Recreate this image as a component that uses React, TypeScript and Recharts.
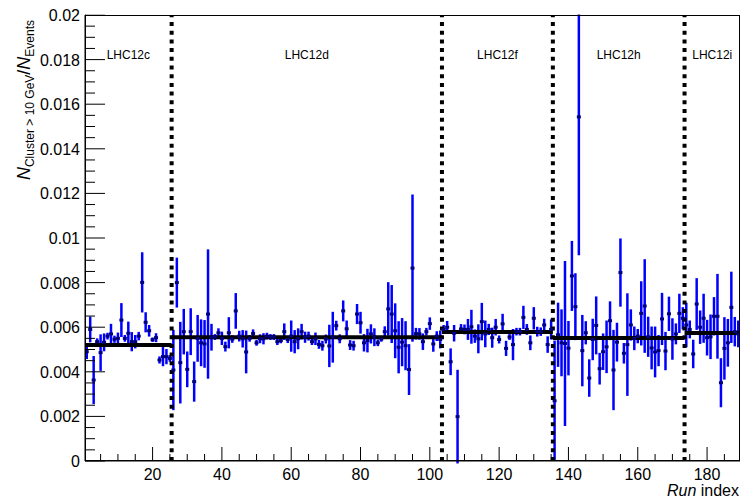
import { ComposedChart, Scatter, ErrorBar, XAxis, YAxis, ReferenceLine, ReferenceArea } from "recharts";

const PERIODS = ["LHC12c", "LHC12d", "LHC12f", "LHC12h", "LHC12i"];
const PERIOD_FIRST_RUN = [1, 26, 104, 136, 174];
const PERIOD_EDGES = [0.5, 25.5, 103.5, 135.5, 173.5, 189.5];
const PERIOD_MEANS = [0.0052, 0.00555, 0.00578, 0.00552, 0.00574];

const LHC12C_VALUES = [0.0049, 0.0059, 0.00363, 0.00535, 0.00486, 0.00532, 0.0056, 0.0057, 0.00546, 0.0055, 0.00632, 0.0055, 0.00573, 0.00535, 0.00535, 0.0056, 0.00801, 0.00622, 0.00584, 0.00544, 0.00553, 0.00453, 0.00468, 0.00468, 0.0046];
const LHC12C_ERRORS = [0.00033, 0.00058, 0.00108, 0.00015, 0.00082, 0.0004, 0.00015, 0.00045, 0.00016, 0.00026, 0.00076, 0.00015, 0.00052, 0.00043, 0.0003, 0.00019, 0.00135, 0.00045, 0.00026, 0.0001, 0.0002, 0.00016, 0.00043, 0.00034, 0.00015];

const LHC12D_VALUES = [
  0.00408, 0.008, 0.00441, 0.0058, 0.00411, 0.0058, 0.00356, 0.0055, 0.0053, 0.00525,
  0.00659, 0.00555, 0.00556, 0.00575, 0.0055, 0.00513, 0.00575, 0.00547, 0.00673, 0.0056,
  0.00548, 0.00489, 0.0055, 0.00572, 0.0053, 0.00548, 0.00548, 0.0056, 0.00556, 0.00556,
  0.00535, 0.0054, 0.0058, 0.00545, 0.0056, 0.00535, 0.00548, 0.0058, 0.00555, 0.0056,
  0.00535, 0.00548, 0.00523, 0.00517, 0.00547, 0.00516, 0.00555, 0.00607, 0.00548, 0.00673,
  0.00593, 0.0052, 0.00517, 0.00659, 0.0062, 0.0053, 0.0054, 0.0057, 0.00555, 0.0053,
  0.00547, 0.0058, 0.00682, 0.00659, 0.00584, 0.0051, 0.00533, 0.00517, 0.0041, 0.00865,
  0.00571, 0.0057, 0.00535, 0.0058, 0.00616, 0.00525, 0.0056, 0.00545,
];
const LHC12D_ERRORS = [
  0.0018, 0.00112, 0.00183, 0.00102, 0.0008, 0.00105, 0.0009, 0.00105, 0.00105, 0.00107,
  0.0029, 0.0006, 0.00013, 0.0002, 0.0003, 0.00022, 0.0007, 0.00017, 0.0008, 0.00024,
  0.00039, 0.00096, 0.00015, 0.00018, 0.00013, 0.0002, 0.00025, 0.00015, 0.00013, 0.00013,
  0.00015, 0.00012, 0.00037, 0.00016, 0.0007, 0.00052, 0.00047, 0.00035, 0.00025, 0.0002,
  0.00015, 0.00028, 0.0002, 0.00022, 0.0002, 0.00095, 0.00114, 0.00022, 0.0002, 0.00047,
  0.00037, 0.00022, 0.00022, 0.00045, 0.00049, 0.00039, 0.00053, 0.00043, 0.0004, 0.00015,
  0.00012, 0.00024, 0.0012, 0.0013, 0.00123, 0.00117, 0.00108, 0.0011, 0.00114, 0.0033,
  0.00026, 0.00026, 0.00037, 0.00017, 0.00028, 0.00035, 0.00022, 0.0004,
];

const LHC12F_VALUES = [
  0.0059, 0.006, 0.00445, 0.00573, 0.00199, 0.00592, 0.0059, 0.0059, 0.00602, 0.0056,
  0.00548, 0.00625, 0.0057, 0.0059, 0.00553, 0.006, 0.00545, 0.00615, 0.00505, 0.00556,
  0.00522, 0.0058, 0.0058, 0.00644, 0.0059, 0.0053, 0.0064, 0.0058, 0.0058, 0.0061,
  0.00522, 0.0059,
];
const LHC12F_ERRORS = [
  0.0002, 0.00028, 0.0006, 0.00037, 0.0021, 0.00022, 0.00022, 0.00047, 0.00076, 0.0003,
  0.00065, 0.00084, 0.0006, 0.00025, 0.00045, 0.00037, 0.00018, 0.00045, 0.00034, 0.00013,
  0.0007, 0.00017, 0.00017, 0.00052, 0.00024, 0.00033, 0.0005, 0.00022, 0.00019, 0.00028,
  0.00037, 0.00045,
];

const LHC12H_VALUES = [
  0.0027, 0.00566, 0.0053, 0.00527, 0.00506, 0.0083, 0.00692, 0.01543, 0.00495, 0.00575,
  0.00372, 0.00545, 0.00608, 0.00414, 0.0049, 0.00512, 0.00629, 0.00408, 0.00533, 0.00845,
  0.00483, 0.00522, 0.0061, 0.0055, 0.0056, 0.00662, 0.00695, 0.00557, 0.00507, 0.00489,
  0.00495, 0.00637, 0.00493, 0.0066, 0.00547, 0.0057, 0.00662, 0.0064,
];
const LHC12H_ERRORS = [
  0.0027, 0.00144, 0.0015, 0.0037, 0.00122, 0.00157, 0.0015, 0.0062, 0.0016, 0.00052,
  0.00084, 0.00093, 0.0013, 0.00071, 0.00082, 0.00118, 0.00087, 0.0018, 0.00087, 0.00153,
  0.00046, 0.0023, 0.0007, 0.00053, 0.00032, 0.00144, 0.0021, 0.0009, 0.00096, 0.00114,
  0.0007, 0.00117, 0.00086, 0.00077, 0.00093, 0.00047, 0.00088, 0.0005,
];

const LHC12I_VALUES = [0.0061, 0.0059, 0.0048, 0.00704, 0.006, 0.0064, 0.00553, 0.00557, 0.00649, 0.00649, 0.00351, 0.00505, 0.0053, 0.00689, 0.0058, 0.0057];
const LHC12I_ERRORS = [0.001, 0.0004, 0.00064, 0.00116, 0.00075, 0.0011, 0.0008, 0.001, 0.00086, 0.0019, 0.0011, 0.0014, 0.00107, 0.0016, 0.00066, 0.0006];

const X_MAJOR = [20, 40, 60, 80, 100, 120, 140, 160, 180];
const Y_MAJOR = [0, 0.002, 0.004, 0.006, 0.008, 0.01, 0.012, 0.014, 0.016, 0.018, 0.02];

const PERIOD_VALUES = [LHC12C_VALUES, LHC12D_VALUES, LHC12F_VALUES, LHC12H_VALUES, LHC12I_VALUES];
const PERIOD_ERRORS = [LHC12C_ERRORS, LHC12D_ERRORS, LHC12F_ERRORS, LHC12H_ERRORS, LHC12I_ERRORS];

const data = PERIOD_VALUES.flatMap((vals, p) =>
  vals.map((v, k) => ({ x: PERIOD_FIRST_RUN[p] + k, v, e: PERIOD_ERRORS[p][k] }))
);

// minor ticks: every 5 on x, every 0.0005 on y
const xTicks: number[] = [];
for (let t = 5; t < 190; t += 5) xTicks.push(t);
const yTicks: number[] = [];
for (let k = 0; k <= 40; k++) yTicks.push(+(k * 0.0005).toFixed(4));

const FONT = "'Liberation Sans', Arial, Helvetica, sans-serif";

function XTick(props: any) {
  const { x, y, payload } = props;
  const major = X_MAJOR.includes(payload.value);
  return (
    <g>
      <line x1={x} x2={x} y1={y} y2={y - (major ? 14 : 7)} stroke="#000" strokeWidth={1} />
      {major && (
        <text x={x} y={y + 19} textAnchor="middle" fontSize={16} fill="#000">
          {payload.value}
        </text>
      )}
    </g>
  );
}

function YTick(props: any) {
  const { x, y, payload } = props;
  const major = Y_MAJOR.some((m) => Math.abs(m - payload.value) < 1e-9);
  return (
    <g>
      <line x1={x} x2={x + (major ? 20 : 10)} y1={y} y2={y} stroke="#000" strokeWidth={1} />
      {major && (
        <text x={x - 5} y={y + 6} textAnchor="end" fontSize={16} fill="#000">
          {String(Number(payload.value.toFixed(3)))}
        </text>
      )}
    </g>
  );
}

function Marker(props: any) {
  const { cx, cy } = props;
  if (cx == null || cy == null) return null;
  return <rect x={cx - 2} y={cy - 1.5} width={4} height={3} fill="#00007a" />;
}

export default function App() {
  return (
    <div style={{ position: "fixed", left: 0, top: 0, width: 741, height: 502, background: "#fff", fontFamily: FONT }}>
      <ComposedChart width={741} height={502} data={data} margin={{ top: 15, right: 1, bottom: 0, left: 0 }}>
        <XAxis
          type="number"
          dataKey="x"
          domain={[0.5, 189.5]}
          allowDataOverflow
          ticks={xTicks}
          interval={0}
          tickLine={false}
          tickSize={0}
          tickMargin={0}
          height={41}
          axisLine={{ stroke: "#000" }}
          tick={<XTick />}
        />
        <YAxis
          type="number"
          dataKey="v"
          domain={[0, 0.02]}
          allowDataOverflow
          ticks={yTicks}
          interval={0}
          tickLine={false}
          tickSize={0}
          tickMargin={0}
          width={85}
          axisLine={{ stroke: "#000" }}
          tick={<YTick />}
        />
        {PERIODS.map((name, p) => (
          <ReferenceArea
            key={name}
            x1={PERIOD_EDGES[p]}
            x2={PERIOD_EDGES[p + 1]}
            y1={0}
            y2={0.02}
            fill="none"
            stroke="none"
            label={{ value: name, position: "insideTop", offset: 35, fontSize: 12, fill: "#000" }}
          />
        ))}
        <Scatter data={data} isAnimationActive={false} shape={<Marker />}>
          <ErrorBar dataKey="e" direction="y" width={0} stroke="#0000ff" strokeWidth={2.5} />
        </Scatter>
        {PERIOD_MEANS.map((m, p) => (
          <ReferenceLine
            key={"m" + p}
            segment={[
              { x: PERIOD_EDGES[p], y: m },
              { x: PERIOD_EDGES[p + 1], y: m },
            ]}
            stroke="#000"
            strokeWidth={4}
          />
        ))}
        {PERIOD_EDGES.slice(1, 5).map((b) => (
          <ReferenceLine key={"b" + b} x={b} stroke="#000" strokeWidth={4} strokeDasharray="4 4.7" />
        ))}
      </ComposedChart>
      <svg width={741} height={502} style={{ position: "absolute", left: 0, top: 0, pointerEvents: "none" }}>
        {/* hide error bars that run past the top of the frame, then redraw the frame */}
        <rect x={86} y={0} width={655} height={14.5} fill="#fff" />
        <rect x={85.5} y={15.5} width={654} height={445} fill="none" stroke="#000" strokeWidth={1} />
        <text transform="rotate(-90)" x={-100} y={30} textAnchor="middle" fill="#000" fontFamily={FONT}>
          <tspan fontSize={18} fontStyle="italic">N</tspan>
          <tspan fontSize={12} dy={4}>{"Cluster > 10 GeV"}</tspan>
          <tspan fontSize={18} dy={-4}>/</tspan>
          <tspan fontSize={18} fontStyle="italic">N</tspan>
          <tspan fontSize={12} dy={4}>Events</tspan>
        </text>
        <text x={739} y={496} textAnchor="end" fontSize={16} fill="#000" fontFamily={FONT}>
          <tspan fontStyle="italic">Run</tspan> index
        </text>
      </svg>
    </div>
  );
}
